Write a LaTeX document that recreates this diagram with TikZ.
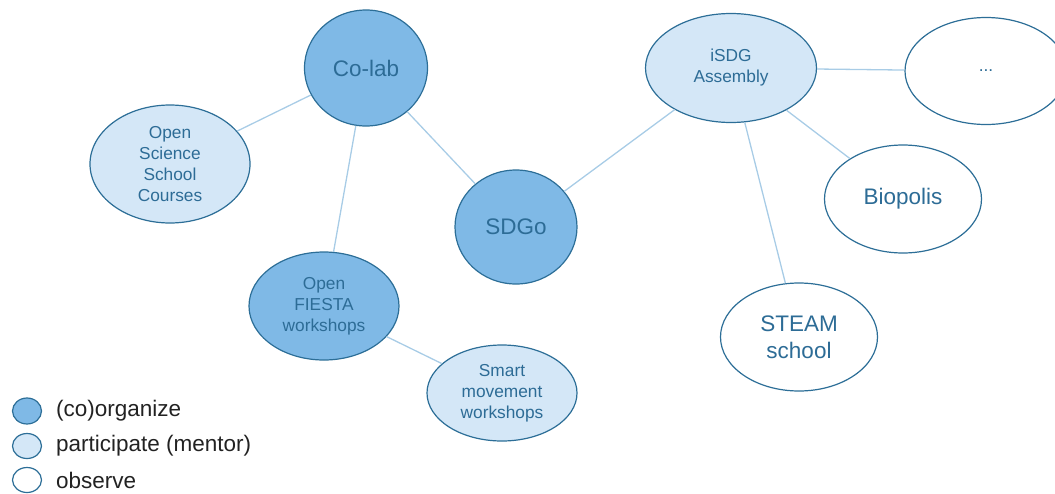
\documentclass[tikz,border=0pt]{standalone}
\usepackage{fontspec}
\setmainfont{Liberation Sans}
\usetikzlibrary{shapes.geometric}
\definecolor{darkfill}{HTML}{7FB9E6}
\definecolor{lightfill}{HTML}{D4E7F7}
\definecolor{edgeblue}{HTML}{2C6E97}
\definecolor{linkblue}{HTML}{A8CCE6}
\definecolor{txtblue}{HTML}{2D6C96}
\definecolor{legtxt}{HTML}{222222}
\begin{document}
\begin{tikzpicture}[x=1pt,y=-1pt,
  blob/.style={ellipse, draw=edgeblue, line width=1.2pt, inner sep=0pt, align=center, text=txtblue},
  org/.style={blob, fill=darkfill},
  part/.style={blob, fill=lightfill},
  obs/.style={blob, fill=white},
  big/.style={font=\fontsize{22.5}{27}\selectfont},
  small/.style={font=\fontsize{17.3}{21}\selectfont},
  link/.style={draw=linkblue, line width=1.3pt},
  legtext/.style={anchor=west, text=legtxt, font=\fontsize{22.5}{26}\selectfont, inner sep=0pt}
]
\useasboundingbox (0,0) rectangle (1055,493);
\begin{scope}
\clip (0,0) rectangle (1055,493);
\node[org, big, minimum width=123pt, minimum height=116pt] (colab) at (366,68) {Co-lab};
\node[part, small, minimum width=160pt, minimum height=118pt] (oss) at (170,164) {Open\\Science\\School\\Courses};
\node[org, big, minimum width=122pt, minimum height=114pt] (sdgo) at (516,227) {SDGo};
\node[org, small, minimum width=150pt, minimum height=108pt] (fiesta) at (324,306) {Open\\FIESTA\\workshops};
\node[part, small, minimum width=150pt, minimum height=96pt] (smart) at (502,393) {Smart\\movement\\workshops};
\node[part, small, minimum width=171pt, minimum height=109pt] (isdg) at (731,68) {iSDG\\Assembly};
\node[obs, small, minimum width=162pt, minimum height=107pt] (more) at (986,71) {...};
\node[obs, big, minimum width=157pt, minimum height=108pt] (bio) at (903,199) {Biopolis};
\node[obs, big, minimum width=157pt, minimum height=108pt] (steam) at (799,337) {STEAM\\school};

\path[link] (colab) -- (oss);
\path[link] (colab) -- (fiesta);
\path[link] (colab) -- (sdgo);
\path[link] (sdgo) -- (isdg);
\path[link] (isdg) -- (more);
\path[link] (isdg) -- (bio);
\path[link] (isdg) -- (steam);
\path[link] (fiesta) -- (smart);
\end{scope}

\node[org, minimum width=29pt, minimum height=26pt] (lg1) at (27,411) {};
\node[part, minimum width=29pt, minimum height=25pt] (lg2) at (27,446) {};
\node[obs, minimum width=29pt, minimum height=25pt] (lg3) at (27,480) {};
\node[legtext] (lt1) at (56,411) {(co)organize};
\node[legtext] (lt2) at (56,446) {participate (mentor)};
\node[legtext] (lt3) at (56,480) {observe};
\end{tikzpicture}
\end{document}
